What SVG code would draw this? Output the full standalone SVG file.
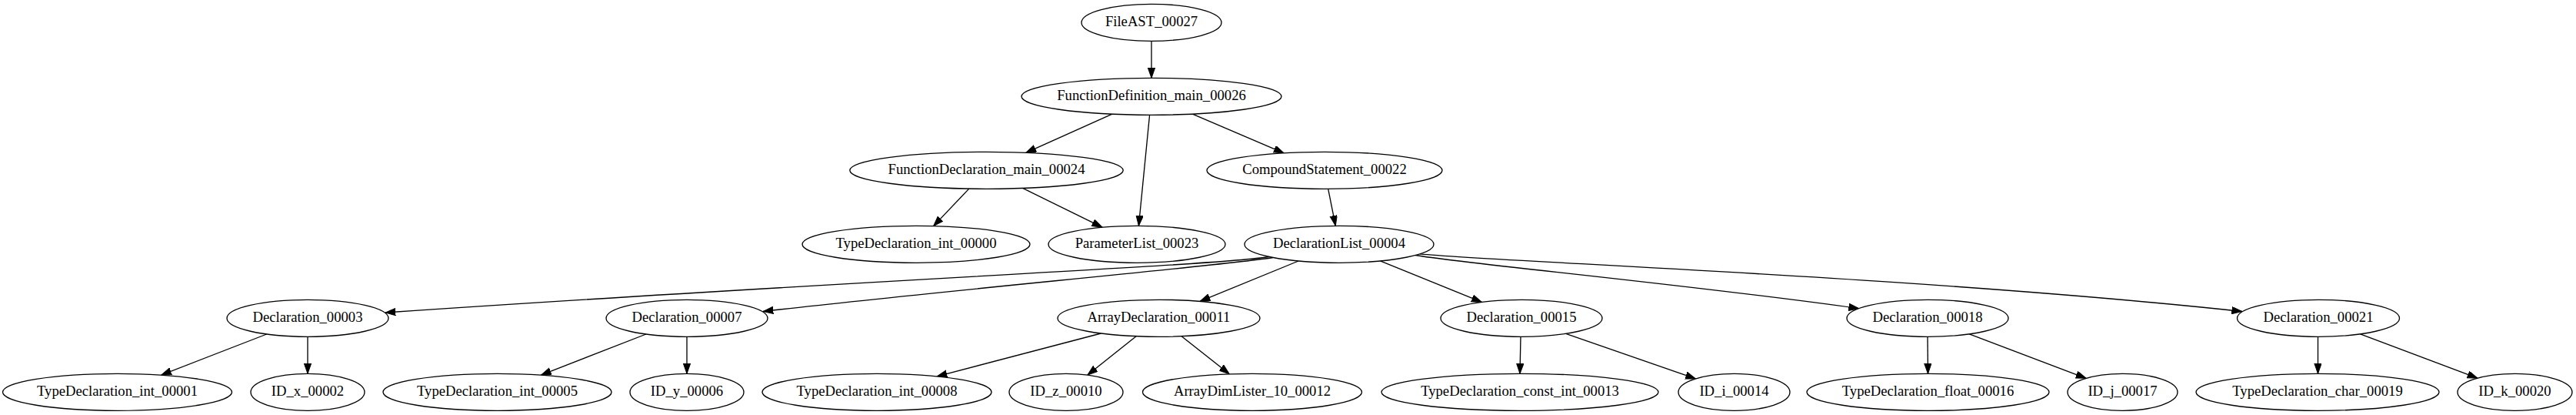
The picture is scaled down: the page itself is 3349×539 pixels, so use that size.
<svg xmlns="http://www.w3.org/2000/svg" width="3349" height="539" viewBox="0 0 3349 539">
<style>
.n ellipse{fill:#fff;stroke:#000;stroke-width:1.33}
.n text{font-family:"Liberation Serif","Times New Roman",serif;font-size:18.67px;text-anchor:middle;fill:#000}
#edges path{fill:none;stroke:#000;stroke-width:1.33;marker-end:url(#ah)}
</style>
<defs>
<marker id="ah" markerUnits="userSpaceOnUse" markerWidth="14" markerHeight="10" refX="13.3" refY="4.67" orient="auto">
<path d="M0,0 L13.3,4.67 L0,9.33 Z" fill="#000" stroke="#000" stroke-width="1"/>
</marker>
</defs>
<rect width="3349" height="539" fill="#fff"/>
<g id="edges">
<path d="M1497,53.3 L1497,101.3"/>
<path d="M1445.9,148.2 L1333.8,198.3"/>
<path d="M1494.6,149.3 L1480.4,293.3"/>
<path d="M1550.4,148.1 L1669.2,198.8"/>
<path d="M1259.8,245.1 L1213.6,293.6"/>
<path d="M1329.6,244.4 L1433,295.2"/>
<path d="M1726.7,245.3 L1736.3,293.3"/>
<path d="M1650,333.5 C1580,345 1100,365 501,406"/>
<path d="M1655,334.5 C1600,344 1200,380 992,404.5"/>
<path d="M1688.1,339 L1560,391.4"/>
<path d="M1794.4,338.9 L1926.4,392.4"/>
<path d="M1840,331.5 C1900,342 2200,370 2416.7,400.7"/>
<path d="M1846,329.8 C1950,340 2500,360 2914.7,404.5"/>
<path d="M346.7,434 L209.6,487.1"/>
<path d="M400,437.3 L400,485.3"/>
<path d="M839.9,434 L703.4,487.1"/>
<path d="M893,437.3 L893,485.3"/>
<path d="M1431.3,433 L1218.1,488.9"/>
<path d="M1477.1,436.7 L1413.9,487.1"/>
<path d="M1536.1,436.7 L1598.3,485.8"/>
<path d="M1977,437.3 L1976,485.3"/>
<path d="M2035.7,433.3 L2204.5,491.9"/>
<path d="M2506,437.3 L2506.5,485.3"/>
<path d="M2560.3,433.8 L2712.1,491.3"/>
<path d="M3013.5,437.3 L3013.5,485.3"/>
<path d="M3068.6,433.8 L3221,491.1"/>
</g>
<g id="FileAST_00027" class="n"><ellipse cx="1497" cy="29.3" rx="91" ry="24"/><text x="1497" y="34.3">FileAST_00027</text></g>
<g id="FunctionDefinition_main_00026" class="n"><ellipse cx="1497" cy="125.3" rx="169" ry="24"/><text x="1497" y="130.3">FunctionDefinition_main_00026</text></g>
<g id="FunctionDeclaration_main_00024" class="n"><ellipse cx="1282.5" cy="221.3" rx="177.7" ry="24"/><text x="1282.5" y="226.3">FunctionDeclaration_main_00024</text></g>
<g id="CompoundStatement_00022" class="n"><ellipse cx="1722" cy="221.3" rx="153" ry="24"/><text x="1722" y="226.3">CompoundStatement_00022</text></g>
<g id="TypeDeclaration_int_00000" class="n"><ellipse cx="1191" cy="317.3" rx="148" ry="24"/><text x="1191" y="322.3">TypeDeclaration_int_00000</text></g>
<g id="ParameterList_00023" class="n"><ellipse cx="1478" cy="317.3" rx="115" ry="24"/><text x="1478" y="322.3">ParameterList_00023</text></g>
<g id="DeclarationList_00004" class="n"><ellipse cx="1741" cy="317.3" rx="123" ry="24"/><text x="1741" y="322.3">DeclarationList_00004</text></g>
<g id="Declaration_00003" class="n"><ellipse cx="400" cy="413.3" rx="105" ry="24"/><text x="400" y="418.3">Declaration_00003</text></g>
<g id="Declaration_00007" class="n"><ellipse cx="893" cy="413.3" rx="105" ry="24"/><text x="893" y="418.3">Declaration_00007</text></g>
<g id="ArrayDeclaration_00011" class="n"><ellipse cx="1506.5" cy="413.3" rx="131.5" ry="24"/><text x="1506.5" y="418.3">ArrayDeclaration_00011</text></g>
<g id="Declaration_00015" class="n"><ellipse cx="1978" cy="413.3" rx="105" ry="24"/><text x="1978" y="418.3">Declaration_00015</text></g>
<g id="Declaration_00018" class="n"><ellipse cx="2506" cy="413.3" rx="105" ry="24"/><text x="2506" y="418.3">Declaration_00018</text></g>
<g id="Declaration_00021" class="n"><ellipse cx="3014" cy="413.3" rx="105.5" ry="24"/><text x="3014" y="418.3">Declaration_00021</text></g>
<g id="TypeDeclaration_int_00001" class="n"><ellipse cx="152.5" cy="509.3" rx="149" ry="24"/><text x="152.5" y="514.3">TypeDeclaration_int_00001</text></g>
<g id="ID_x_00002" class="n"><ellipse cx="400" cy="509.3" rx="74" ry="24"/><text x="400" y="514.3">ID_x_00002</text></g>
<g id="TypeDeclaration_int_00005" class="n"><ellipse cx="646.5" cy="509.3" rx="148.5" ry="24"/><text x="646.5" y="514.3">TypeDeclaration_int_00005</text></g>
<g id="ID_y_00006" class="n"><ellipse cx="893" cy="509.3" rx="74" ry="24"/><text x="893" y="514.3">ID_y_00006</text></g>
<g id="TypeDeclaration_int_00008" class="n"><ellipse cx="1140" cy="509.3" rx="149" ry="24"/><text x="1140" y="514.3">TypeDeclaration_int_00008</text></g>
<g id="ID_z_00010" class="n"><ellipse cx="1386" cy="509.3" rx="74" ry="24"/><text x="1386" y="514.3">ID_z_00010</text></g>
<g id="ArrayDimLister_10_00012" class="n"><ellipse cx="1628" cy="509.3" rx="142.5" ry="24"/><text x="1628" y="514.3">ArrayDimLister_10_00012</text></g>
<g id="TypeDeclaration_const_int_00013" class="n"><ellipse cx="1976" cy="509.3" rx="180" ry="24"/><text x="1976" y="514.3">TypeDeclaration_const_int_00013</text></g>
<g id="ID_i_00014" class="n"><ellipse cx="2254.5" cy="509.3" rx="72.5" ry="24"/><text x="2254.5" y="514.3">ID_i_00014</text></g>
<g id="TypeDeclaration_float_00016" class="n"><ellipse cx="2506.5" cy="509.3" rx="157.5" ry="24"/><text x="2506.5" y="514.3">TypeDeclaration_float_00016</text></g>
<g id="ID_j_00017" class="n"><ellipse cx="2759.5" cy="509.3" rx="71.5" ry="24"/><text x="2759.5" y="514.3">ID_j_00017</text></g>
<g id="TypeDeclaration_char_00019" class="n"><ellipse cx="3013" cy="509.3" rx="158" ry="24"/><text x="3013" y="514.3">TypeDeclaration_char_00019</text></g>
<g id="ID_k_00020" class="n"><ellipse cx="3269.5" cy="509.3" rx="74.5" ry="24"/><text x="3269.5" y="514.3">ID_k_00020</text></g>
</svg>
